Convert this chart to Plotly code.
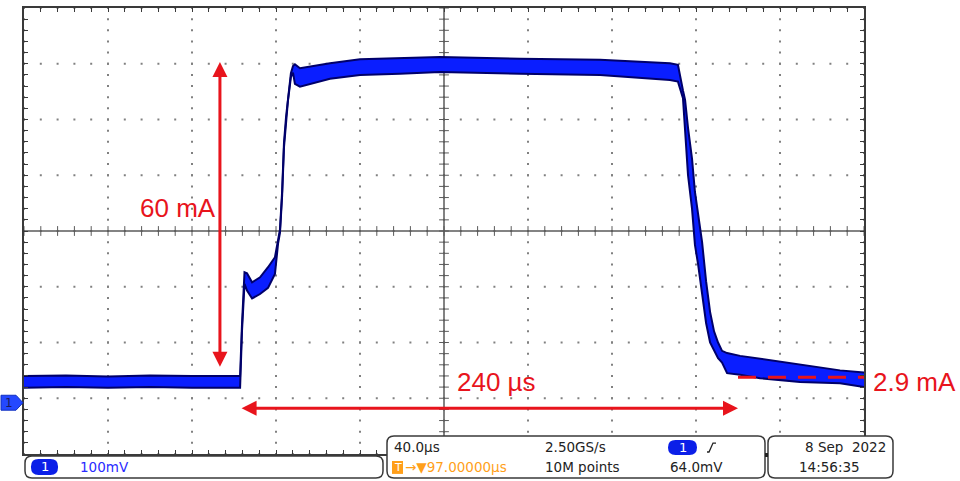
import plotly.graph_objects as go

# ---------------- data (time in µs, channel 1 in mV, 100 mV/div, 40 µs/div) ----------------
time_us = [0.0, 20.0, 40.0, 60.0, 80.0, 102.9, 103.8, 105.0, 106.2, 108.6, 112.4, 116.2,
           119.5, 121.0, 121.9, 122.9, 123.8, 124.8, 125.7, 127.1, 128.1, 129.0, 131.4,
           145.7, 160.0, 179.0, 198.1, 236.2, 274.3, 307.6, 311.4, 313.8, 314.8, 316.2,
           318.1, 319.5, 321.0, 322.9, 324.8, 326.7, 328.6, 330.5, 332.4, 334.8, 341.0,
           350.5, 369.5, 388.6, 400.0]
upper_mV = [-260, -259, -261, -259, -260, -260, -168, -74, -76, -92, -83, -65,
            -47, -14, 3, 70, 158, 205, 240, 283, 296, 299, 292,
            301, 308, 310, 312, 309, 307, 301, 298, 252, 235, 185,
            130, 70, 30, -20, -90, -145, -180, -200, -215, -219, -224,
            -229, -240, -250, -254]
lower_mV = [-281, -280, -281, -280, -281, -281, -180, -95, -107, -121, -113, -102,
            -77, -22, -3, 62, 150, 198, 234, 276, 284, 264, 259,
            273, 280, 282, 285, 282, 280, 271, 268, 238, 180, 100,
            40, -25, -60, -110, -165, -200, -215, -228, -236, -255, -258,
            -264, -271, -273, -280]

ref_level_t = [340.0, 400.0]      # 2.9 mA reference (dashed)
ref_level_mV = [-262.5, -262.5]

amp_arrow_t = 93.3                # 60 mA arrow
amp_arrow_mV = [303.0, -246.0]
dur_arrow_t = [102.9, 340.0]      # 240 µs arrow
dur_arrow_mV = -318.0

x_major = [40 * i for i in range(11)]
y_major = [-400 + 100 * i for i in range(9)]
x_minor = [8 * i for i in range(51)]
y_minor = [-400 + 20 * i for i in range(41)]

RED = "#e8141c"
BLUE_FILL = "#0a1eff"
NAVY = "#00006a"
GRID = "#5a5a5a"
FONT = "Liberation Sans, Arial, sans-serif"
SCOPE_FONT = "DejaVu Sans, Verdana, sans-serif"

fig = go.Figure()

# graticule dots
gx, gy = [], []
for xm in x_major:
    for ym in y_minor:
        gx.append(xm); gy.append(ym)
for ym in y_major:
    for xm in x_minor:
        gx.append(xm); gy.append(ym)
fig.add_trace(go.Scatter(x=gx, y=gy, mode="markers", hoverinfo="skip",
                         marker=dict(symbol="square", size=2, color="#808080", line=dict(width=0)),
                         showlegend=False))

# centre axes
fig.add_trace(go.Scatter(x=[0, 400], y=[0, 0], mode="lines", line=dict(color=GRID, width=1.5),
                         hoverinfo="skip", showlegend=False))
fig.add_trace(go.Scatter(x=[200, 200], y=[-400, 400], mode="lines", line=dict(color=GRID, width=1.5),
                         hoverinfo="skip", showlegend=False))
fig.add_trace(go.Scatter(x=x_minor, y=[0] * len(x_minor), mode="markers", hoverinfo="skip",
                         marker=dict(symbol="line-ns-open", size=7, color=GRID, line=dict(color=GRID, width=1)),
                         showlegend=False))
fig.add_trace(go.Scatter(x=[200] * len(y_minor), y=y_minor, mode="markers", hoverinfo="skip",
                         marker=dict(symbol="line-ew-open", size=7, color=GRID, line=dict(color=GRID, width=1)),
                         showlegend=False))

# the waveform band
fig.add_trace(go.Scatter(x=time_us, y=lower_mV, mode="lines", line=dict(color=NAVY, width=2),
                         hoverinfo="skip", showlegend=False))
fig.add_trace(go.Scatter(x=time_us, y=upper_mV, mode="lines", line=dict(color=NAVY, width=2),
                         fill="tonexty", fillcolor=BLUE_FILL, hoverinfo="skip", showlegend=False))

# reference level dashed line
fig.add_trace(go.Scatter(x=ref_level_t, y=ref_level_mV, mode="lines",
                         line=dict(color=RED, width=3, dash="18px,12px"),
                         hoverinfo="skip", showlegend=False))

# arrows
fig.add_annotation(x=amp_arrow_t, y=amp_arrow_mV[0], ax=amp_arrow_t, ay=amp_arrow_mV[1],
                   xref="x", yref="y", axref="x", ayref="y", text="", showarrow=True,
                   arrowhead=2, startarrowhead=2, arrowside="end+start", arrowwidth=3,
                   arrowsize=1, startarrowsize=1, arrowcolor=RED)
fig.add_annotation(x=dur_arrow_t[1], y=dur_arrow_mV, ax=dur_arrow_t[0], ay=dur_arrow_mV,
                   xref="x", yref="y", axref="x", ayref="y", text="", showarrow=True,
                   arrowhead=2, startarrowhead=2, arrowside="end+start", arrowwidth=3,
                   arrowsize=1, startarrowsize=1, arrowcolor=RED)

# ------------- pixel helpers for decorations -------------
def PX(xp):
    return (xp - 24) / 840.0

def PY(yp):
    return (454 - yp) / 448.0

def P(xp, yp):
    return f"{PX(xp):.5f},{PY(yp):.5f}"

# red labels
fig.add_annotation(x=73.5, y=41, xref="x", yref="y", text="60 mA", showarrow=False,
                   xanchor="center", yanchor="middle", font=dict(family=FONT, size=26, color=RED))
fig.add_annotation(x=225, y=-270, xref="x", yref="y", text="240 µs", showarrow=False,
                   xanchor="center", yanchor="middle", font=dict(family=FONT, size=26, color=RED))
fig.add_annotation(x=PX(871), y=PY(382), xref="paper", yref="paper", text="2.9 mA", showarrow=False,
                   xanchor="left", yanchor="middle", font=dict(family=FONT, size=26, color=RED))

def rrect(x0, y0, x1, y1, r):
    return (f"M{P(x0 + r, y0)} L{P(x1 - r, y0)} Q{P(x1, y0)} {P(x1, y0 + r)} "
            f"L{P(x1, y1 - r)} Q{P(x1, y1)} {P(x1 - r, y1)} L{P(x0 + r, y1)} "
            f"Q{P(x0, y1)} {P(x0, y1 - r)} L{P(x0, y0 + r)} Q{P(x0, y0)} {P(x0 + r, y0)} Z")

shapes = []
for (x0, y0, x1, y1) in [(25, 456, 383, 478), (387, 436, 765, 478), (768, 436, 893, 478)]:
    shapes.append(dict(type="path", xref="paper", yref="paper", path=rrect(x0, y0, x1, y1, 7),
                       fillcolor="white", line=dict(color="#3a3a3a", width=1.5), layer="above"))
# blue pills
for (x0, y0, x1, y1) in [(31, 459, 58, 475), (668, 440, 697, 455)]:
    shapes.append(dict(type="path", xref="paper", yref="paper", path=rrect(x0, y0, x1, y1, 7.5),
                       fillcolor="#0b1fe8", line=dict(width=0), layer="above"))
# orange trigger box
shapes.append(dict(type="rect", xref="paper", yref="paper", x0=PX(392), x1=PX(403), y0=PY(474), y1=PY(461),
                   fillcolor="#ff9f1a", line=dict(width=0), layer="above"))
# rising edge symbol
shapes.append(dict(type="path", xref="paper", yref="paper",
                   path=f"M{P(707, 452)} L{P(709, 452)} L{P(713, 443)} L{P(716, 443)}",
                   line=dict(color="#222", width=1.3), layer="above"))
# connector between boxes
shapes.append(dict(type="rect", xref="paper", yref="paper", x0=PX(765), x1=PX(768), y0=PY(457), y1=PY(453),
                   fillcolor="#222", line=dict(width=0), layer="above"))
# channel ground marker
shapes.append(dict(type="path", xref="paper", yref="paper",
                   path=f"M{P(1, 395)} L{P(16, 395)} L{P(23, 402.5)} L{P(16, 410)} L{P(1, 410)} Z",
                   fillcolor="#2448ff", line=dict(color="#1030c0", width=1), layer="above"))

def label(txt, xp, yp, color="#222", size=13.5, anchor="left", family=SCOPE_FONT):
    fig.add_annotation(x=PX(xp), y=PY(yp), xref="paper", yref="paper", text=txt, showarrow=False,
                       xanchor=anchor, yanchor="middle", font=dict(family=family, size=size, color=color))

label("1", 44.5, 467, "white", 13, "center")
label("100mV", 78, 467, "#2a2aff")
label("40.0µs", 392, 447)
label("T", 397.5, 467.5, "white", 11, "center")
label("→▼97.00000µs", 403, 467, "#ff9f1a")
label("2.50GS/s", 543, 447)
label("10M points", 543, 467)
label("1", 682.5, 447.5, "white", 13, "center")
label("64.0mV", 668, 467)
label("8 Sep\u00a0 2022", 888, 447, anchor="right")
label("14:56:35", 797, 467)
label("1", 9, 402.5, "#1a1a60", 12, "center")

axis_common = dict(showgrid=False, zeroline=False, showline=True, mirror="ticks", linecolor="#3a3a3a",
                   linewidth=1.5, ticks="inside", ticklen=4, tickcolor="#3a3a3a", tickwidth=1,
                   showticklabels=False, fixedrange=True)

fig.update_layout(
    width=960, height=481,
    margin=dict(l=24, r=96, t=6, b=27, pad=0),
    paper_bgcolor="white", plot_bgcolor="white",
    xaxis=dict(range=[0, 400], tickmode="linear", tick0=0, dtick=8, **axis_common),
    yaxis=dict(range=[-400, 400], tickmode="linear", tick0=-400, dtick=20, **axis_common),
    shapes=shapes,
    showlegend=False,
)

fig.write_html("out.html", config={"displayModeBar": False},
               post_script="document.body.style.margin='0px';document.body.style.overflow='hidden';")
